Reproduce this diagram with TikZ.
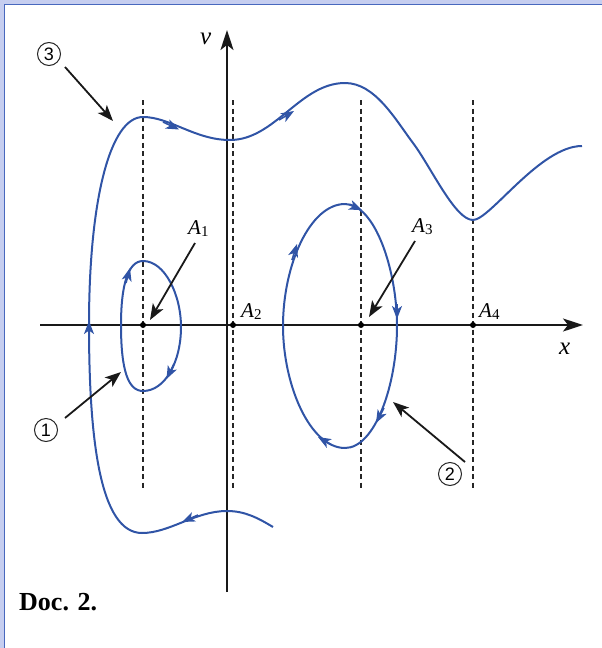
\documentclass[tikz,border=0pt]{standalone}
\usepackage{fontspec}
\setmainfont{Liberation Serif}
\setsansfont{Liberation Sans}
\usetikzlibrary{arrows.meta}
\definecolor{curveblue}{RGB}{48,84,166}
\definecolor{bandblue}{RGB}{198,206,240}
\definecolor{lineblue}{RGB}{72,104,190}
\tikzset{
  traj/.style={draw=curveblue, line width=2pt},
  tipmark/.style={draw=curveblue, fill=curveblue, line width=1.6pt, -{Stealth[length=13pt,width=10pt,inset=3.5pt]}},
  guide/.style={draw=black!85, line width=1.4pt, dash pattern=on 5pt off 3.5pt},
  pointer/.style={draw=black!90, line width=1.8pt, -{Stealth[length=16pt,width=12pt,inset=4pt]}},
  axisline/.style={draw=black!90, line width=2pt, -{Stealth[length=20pt,width=13pt,inset=5pt]}},
  numlabel/.style={circle, draw=black!85, line width=1pt, minimum size=23pt, inner sep=0pt, font=\sffamily\fontsize{18}{18}\selectfont},
  ptlabel/.style={anchor=base west, inner sep=0pt, font=\fontsize{21}{21}\selectfont},
  axlabel/.style={anchor=base west, inner sep=0pt, font=\fontsize{25}{25}\selectfont\itshape},
  dot/.style={circle, fill=black, inner sep=0pt, minimum size=6pt}
}
\newcommand{\Asub}[1]{\textit{A}\raisebox{-0.3ex}{\fontsize{15}{15}\selectfont #1}}
\begin{document}
\begin{tikzpicture}[x=1pt,y=-1pt]
\useasboundingbox (0,0) rectangle (602,648);
% frame
\fill[bandblue] (0,0) rectangle (602,3.5);
\fill[bandblue] (0,0) rectangle (3.5,648);
\draw[lineblue, line width=1.5pt] (4.25,648) -- (4.25,4.25) -- (602,4.25);

% dashed guides
\foreach \gx in {143,233,361,473} \draw[guide] (\gx,100) -- (\gx,490);

% axes
\coordinate (xs) at (40,325);
\coordinate (xe) at (583,325);
\coordinate (vs) at (227,592);
\coordinate (ve) at (227,30);
\draw[axisline] (xs) -- (xe);
\draw[axisline] (vs) -- (ve);
\node[axlabel] (xl) at (559,354) {x};
\node[axlabel] (vl) at (200,44) {v};

% equilibrium points
\node[dot] (a1) at (143,325) {};
\node[dot] (a2) at (233,325) {};
\node[dot] (a3) at (361,325) {};
\node[dot] (a4) at (473,325) {};
\node[ptlabel] (la1) at (188,234) {\Asub{1}};
\node[ptlabel] (la2) at (241,317) {\Asub{2}};
\node[ptlabel] (la3) at (412,232) {\Asub{3}};
\node[ptlabel] (la4) at (479,317) {\Asub{4}};

% trajectory 1
\draw[traj] (143,261) .. controls (165,261) and (181,295) .. (181,327)
  .. controls (181,362) and (165,391) .. (143,391)
  .. controls (128,391) and (121,370) .. (121,325)
  .. controls (121,285) and (128,261) .. (143,261) -- cycle;
% trajectory 2
\draw[traj] (345,204) .. controls (375,204) and (397,270) .. (397,326)
  .. controls (397,385) and (375,448) .. (345,448)
  .. controls (310,448) and (283,385) .. (283,326)
  .. controls (283,265) and (310,204) .. (345,204) -- cycle;
% trajectory 3
\draw[traj] (273,527) .. controls (258,518) and (245,511) .. (227,511)
  .. controls (195,511) and (170,533) .. (142,533)
  .. controls (100,533) and (89,440) .. (89,325)
  .. controls (89,200) and (110,117) .. (143,117)
  .. controls (170,117) and (195,140) .. (230,140)
  .. controls (275,140) and (300,83) .. (345,83)
  .. controls (375,83) and (395,119) .. (413,143)
  .. controls (431,167) and (455,220) .. (473,220)
  .. controls (490,220) and (540,146) .. (582,146);

% direction marks
\draw[tipmark] (126,283) -- (130,268);
\draw[tipmark] (174,364) -- (166.5,379);
\draw[tipmark] (292,260) -- (297,244);
\draw[tipmark] (349,204.5) -- (362,210);
\draw[tipmark] (397,304) -- (397,319);
\draw[tipmark] (384,408) -- (376,423);
\draw[tipmark] (331,444.5) -- (318,437);
\draw[tipmark] (198,515) -- (182,522);
\draw[tipmark] (89,338) -- (89,321);
\draw[tipmark] (163,122) -- (179,129.5);
\draw[tipmark] (279,120) -- (294,111);

% numbered labels and pointers
\node[numlabel] (n3) at (49,54) {3};
\node[numlabel] (n1) at (46,430) {1};
\node[numlabel] (n2) at (450,474) {2};
\coordinate (t3) at (113,121);
\coordinate (t1) at (121,372);
\coordinate (t2) at (393,402);
\coordinate (ta1) at (150,320);
\coordinate (ta3) at (369,317);
\draw[pointer] (65,67) -- (t3);
\draw[pointer] (65,418) -- (t1);
\draw[pointer] (465,462) -- (t2);
\draw[pointer] (195,243) -- (ta1);
\draw[pointer] (415,241) -- (ta3);

% caption
\node[anchor=base west, inner sep=0pt, font=\bfseries\fontsize{26}{26}\selectfont] (cap) at (19,610) {Doc. 2.};
\end{tikzpicture}
\end{document}
